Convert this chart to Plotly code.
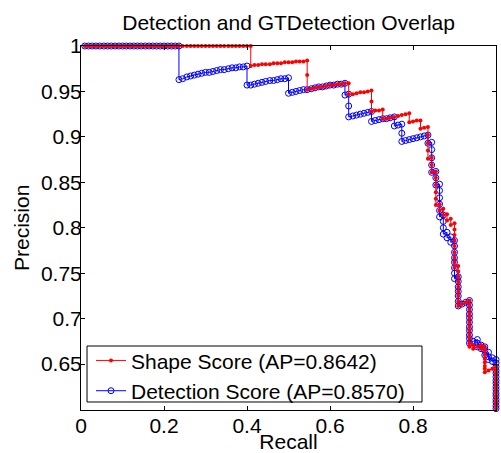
import plotly.graph_objects as go

# ---------------- data ----------------
shape_recall = [
    0.009, 0.018, 0.027, 0.036, 0.045, 0.055, 0.064, 0.073, 0.082, 0.091,
    0.1, 0.109, 0.118, 0.127, 0.136, 0.145, 0.155, 0.164, 0.173, 0.182,
    0.191, 0.2, 0.209, 0.218, 0.227, 0.236, 0.245, 0.255, 0.264, 0.273,
    0.282, 0.291, 0.3, 0.309, 0.318, 0.327, 0.336, 0.345, 0.355, 0.364,
    0.373, 0.382, 0.391, 0.4, 0.409,
    0.409,
    0.418, 0.427, 0.436, 0.445, 0.455, 0.464, 0.473, 0.482, 0.491, 0.5,
    0.509, 0.518, 0.527, 0.536, 0.545,
    0.545, 0.545,
    0.555, 0.564, 0.573, 0.582, 0.591, 0.6, 0.609, 0.618, 0.627, 0.636, 0.645,
    0.645,
    0.655, 0.664, 0.673, 0.682, 0.691, 0.7,
    0.7, 0.7,
    0.709, 0.718, 0.727,
    0.727,
    0.736, 0.745, 0.755, 0.764, 0.773, 0.782, 0.791,
    0.791,
    0.8, 0.809, 0.818,
    0.818, 0.827, 0.836, 0.836, 0.836, 0.836, 0.836,
    0.845, 0.845, 0.845,
    0.855, 0.855, 0.855, 0.855, 0.855, 0.855,
    0.864, 0.864,
    0.873, 0.873,
    0.882, 0.882,
    0.891, 0.891,
    0.9, 0.9, 0.9, 0.9, 0.9, 0.9, 0.9, 0.9, 0.9,
    0.909, 0.909, 0.909, 0.909, 0.909, 0.909, 0.909, 0.909, 0.909,
    0.918, 0.927, 0.936,
    0.936, 0.936, 0.936, 0.936, 0.936, 0.936, 0.936, 0.936, 0.936, 0.936, 0.936,
    0.945, 0.945,
    0.955,
    0.964, 0.964,
    0.973, 0.973, 0.973, 0.973, 0.973, 0.973, 0.973, 0.973,
    0.982, 0.991,
    1.0, 1.0, 1.0, 1.0, 1.0, 1.0, 1.0, 1.0, 1.0, 1.0, 1.0, 1.0, 1.0, 1.0,
]
shape_precision = [
    1, 1, 1, 1, 1, 1, 1, 1, 1, 1,
    1, 1, 1, 1, 1, 1, 1, 1, 1, 1,
    1, 1, 1, 1, 1, 1, 1, 1, 1, 1,
    1, 1, 1, 1, 1, 1, 1, 1, 1, 1,
    1, 1, 1, 1, 1,
    0.978,
    0.979, 0.979, 0.98, 0.98, 0.98, 0.981, 0.981, 0.981, 0.982, 0.982,
    0.982, 0.983, 0.983, 0.983, 0.984,
    0.968, 0.952,
    0.953, 0.954, 0.955, 0.955, 0.956, 0.957, 0.957, 0.958, 0.958, 0.959, 0.959,
    0.947,
    0.947, 0.948, 0.949, 0.949, 0.95, 0.951,
    0.939, 0.928,
    0.929, 0.929, 0.93,
    0.92,
    0.92, 0.921, 0.922, 0.923, 0.924, 0.925, 0.926,
    0.916,
    0.917, 0.918, 0.918,
    0.909, 0.91, 0.911, 0.902, 0.893, 0.885, 0.876,
    0.877, 0.869, 0.861,
    0.862, 0.855, 0.847, 0.839, 0.832, 0.825,
    0.826, 0.819,
    0.821, 0.814,
    0.815, 0.808,
    0.81, 0.803,
    0.805, 0.798, 0.792, 0.786, 0.78, 0.773, 0.767, 0.762, 0.756,
    0.758, 0.752, 0.746, 0.741, 0.735, 0.73, 0.725, 0.719, 0.714,
    0.716, 0.718, 0.72,
    0.715, 0.71, 0.705, 0.701, 0.696, 0.691, 0.687, 0.682, 0.678, 0.673, 0.669,
    0.671, 0.667,
    0.669,
    0.671, 0.667,
    0.669, 0.665, 0.66, 0.656, 0.652, 0.648, 0.645, 0.641,
    0.643, 0.645,
    0.647, 0.643, 0.64, 0.636, 0.632, 0.629, 0.625, 0.622, 0.618, 0.615, 0.611, 0.608, 0.604, 0.601,
]

det_recall = [
    0.009, 0.018, 0.027, 0.036, 0.045, 0.055, 0.064, 0.073, 0.082, 0.091,
    0.1, 0.109, 0.118, 0.127, 0.136, 0.145, 0.155, 0.164, 0.173, 0.182,
    0.191, 0.2, 0.209, 0.218, 0.227, 0.236,
    0.236,
    0.245, 0.255, 0.264, 0.273, 0.282, 0.291, 0.3, 0.309, 0.318, 0.327,
    0.336, 0.345, 0.355, 0.364, 0.373, 0.382, 0.391, 0.4,
    0.4,
    0.409, 0.418, 0.427, 0.436, 0.445, 0.455, 0.464, 0.473, 0.482, 0.491, 0.5,
    0.5,
    0.509, 0.518, 0.527, 0.536, 0.545, 0.555, 0.564, 0.573, 0.582, 0.591,
    0.6, 0.609, 0.618, 0.627, 0.636,
    0.636, 0.645, 0.645, 0.645,
    0.655, 0.664, 0.673, 0.682, 0.691, 0.7,
    0.7,
    0.709, 0.718, 0.727, 0.736, 0.745, 0.755,
    0.755, 0.764, 0.773, 0.773, 0.773,
    0.782, 0.791, 0.8, 0.809, 0.818, 0.827, 0.836,
    0.836, 0.845, 0.845, 0.845, 0.845, 0.845,
    0.855, 0.855, 0.855,
    0.864, 0.864, 0.864, 0.864, 0.864, 0.864,
    0.873, 0.873, 0.873, 0.873,
    0.882, 0.882,
    0.891, 0.891,
    0.9, 0.9, 0.9, 0.9, 0.9, 0.9, 0.9, 0.9,
    0.909, 0.909, 0.909, 0.909, 0.909, 0.909, 0.909,
    0.918, 0.927, 0.936,
    0.936, 0.936, 0.936, 0.936, 0.936, 0.936, 0.936, 0.936, 0.936, 0.936,
    0.945, 0.955, 0.955, 0.955,
    0.964, 0.964,
    0.973, 0.973, 0.973,
    0.982, 0.982, 0.982,
    0.991, 0.991,
    1.0, 1.0, 1.0, 1.0, 1.0, 1.0, 1.0, 1.0, 1.0, 1.0, 1.0, 1.0, 1.0, 1.0, 1.0, 1.0,
]
det_precision = [
    1, 1, 1, 1, 1, 1, 1, 1, 1, 1,
    1, 1, 1, 1, 1, 1, 1, 1, 1, 1,
    1, 1, 1, 1, 1, 1,
    0.963,
    0.964, 0.966, 0.967, 0.968, 0.969, 0.97, 0.971, 0.971, 0.972, 0.973,
    0.974, 0.974, 0.975, 0.976, 0.976, 0.977, 0.977, 0.978,
    0.957,
    0.957, 0.958, 0.959, 0.96, 0.961, 0.962, 0.962, 0.963, 0.964, 0.964, 0.965,
    0.948,
    0.949, 0.95, 0.951, 0.952, 0.952, 0.953, 0.954, 0.955, 0.955, 0.956,
    0.957, 0.957, 0.958, 0.958, 0.959,
    0.946, 0.947, 0.934, 0.922,
    0.923, 0.924, 0.925, 0.926, 0.927, 0.928,
    0.917,
    0.918, 0.919, 0.92, 0.92, 0.921, 0.922,
    0.912, 0.913, 0.914, 0.904, 0.895,
    0.896, 0.897, 0.898, 0.899, 0.9, 0.901, 0.902,
    0.893, 0.894, 0.886, 0.877, 0.869, 0.861,
    0.862, 0.855, 0.847,
    0.848, 0.841, 0.833, 0.826, 0.819, 0.812,
    0.814, 0.807, 0.8, 0.793,
    0.795, 0.789,
    0.79, 0.784,
    0.786, 0.78, 0.773, 0.767, 0.762, 0.756, 0.75, 0.744,
    0.746, 0.741, 0.735, 0.73, 0.725, 0.719, 0.714,
    0.716, 0.718, 0.72,
    0.715, 0.71, 0.705, 0.701, 0.696, 0.691, 0.687, 0.682, 0.678, 0.673,
    0.675, 0.677, 0.673, 0.669,
    0.671, 0.667,
    0.669, 0.665, 0.66,
    0.663, 0.658, 0.655,
    0.657, 0.653,
    0.655, 0.651, 0.647, 0.643, 0.64, 0.636, 0.632, 0.629, 0.625, 0.622, 0.618, 0.615, 0.611, 0.608, 0.604, 0.601,
]

series_names = ["Shape Score (AP=0.8642)", "Detection Score (AP=0.8570)"]
x_ticks = [0, 0.2, 0.4, 0.6, 0.8, 1]
x_tick_labels = ["0", "0.2", "0.4", "0.6", "0.8", "1"]
y_ticks = [0.65, 0.7, 0.75, 0.8, 0.85, 0.9, 0.95, 1]
y_tick_labels = ["0.65", "0.7", "0.75", "0.8", "0.85", "0.9", "0.95", "1"]

assert len(shape_recall) == len(shape_precision), (len(shape_recall), len(shape_precision))
assert len(det_recall) == len(det_precision), (len(det_recall), len(det_precision))

FONT = "Liberation Sans, Arial, Helvetica, sans-serif"

fig = go.Figure()
fig.add_trace(go.Scatter(
    x=det_recall, y=det_precision, mode="lines+markers", name=series_names[1],
    line=dict(color="rgb(0,0,255)", width=1),
    marker=dict(symbol="circle-open", size=6, color="rgb(0,0,255)", line=dict(width=1)),
    cliponaxis=False, legendrank=2,
))
fig.add_trace(go.Scatter(
    x=shape_recall, y=shape_precision, mode="lines+markers", name=series_names[0],
    line=dict(color="rgb(255,0,0)", width=1),
    marker=dict(symbol="circle", size=4, color="rgb(255,0,0)"),
    cliponaxis=False, legendrank=1,
))

axis_common = dict(
    showline=True, linecolor="black", linewidth=1, mirror="ticks",
    ticks="inside", ticklen=4, tickwidth=1, tickcolor="black",
    showgrid=False, zeroline=False, automargin=False,
    tickfont=dict(family=FONT, size=21, color="black"),
)

# legend frame (MATLAB-style box), drawn under the legend entries
fig.add_shape(type="rect", xref="paper", yref="paper",
              x0=0.0145, x1=0.8217, y0=0.022, y1=0.1758,
              line=dict(color="black", width=1), fillcolor="white", layer="above")

# y-axis title placed like MATLAB's ylabel
fig.add_annotation(text="Precision", xref="paper", yref="paper",
                   x=(21 - 81) / 415, y=0.5, xanchor="center", yanchor="middle",
                   textangle=-90, showarrow=False,
                   font=dict(family=FONT, size=21, color="black"))

fig.update_layout(
    width=501, height=453,
    margin=dict(l=81, r=5, t=46, b=43, autoexpand=False),
    paper_bgcolor="white", plot_bgcolor="white",
    font=dict(family=FONT, size=21, color="black"),
    hovermode=False,
    title=dict(text="Detection and GTDetection Overlap", x=0.576, xanchor="center",
               y=1 - 23 / 453, yref="container", yanchor="middle",
               font=dict(family=FONT, size=21, color="black")),
    xaxis=dict(range=[0, 1], tickvals=x_ticks, ticktext=x_tick_labels,
               ticklabelstandoff=-3,
               title=dict(text="Recall", standoff=1, font=dict(family=FONT, size=21)),
               **axis_common),
    yaxis=dict(range=[0.5995, 1], tickvals=y_ticks, ticktext=y_tick_labels,
               ticklabelstandoff=-6,
               **axis_common),
    legend=dict(x=0.0241, y=0.094, xanchor="left", yanchor="middle",
                bgcolor="rgba(0,0,0,0)", borderwidth=0,
                font=dict(family=FONT, size=21, color="black"),
                tracegroupgap=0, itemwidth=30),
    showlegend=True,
)

fig.write_html(
    "out.html",
    config={"displayModeBar": False},
    post_script="document.body.style.margin='0';document.body.style.padding='0';",
)
